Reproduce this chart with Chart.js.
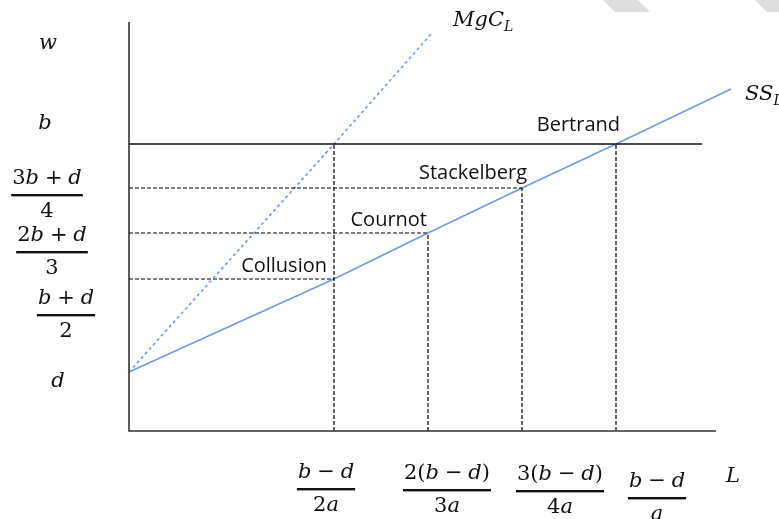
<!DOCTYPE html>
<html><head><meta charset="utf-8">
<script src="https://cdn.jsdelivr.net/npm/chart.js@4"></script>
<style>html,body{margin:0;padding:0;background:#fff}</style>
</head><body>
<canvas id="c" width="779" height="519"></canvas>
<script>
// drawing units: L to the right, w up, origin at the axes corner
const eqNames = ['Collusion', 'Cournot', 'Stackelberg', 'Bertrand'];
const eqL = [205, 299, 393, 487];
const eqW = [152, 198, 243, 287];
const dropTop = [287, 198, 243, 287];   // vertical dashed lines go up to here
const ssL = [0, 205, 299, 393, 487, 602];
const ssW = [59, 152, 198, 243, 287, 342];
const mgcL = [0, 205, 303];
const mgcW = [59, 287, 398];
const bLevel = 287, bLineEnd = 573;
const axisL = 587, axisW = 409;
const wTicks = [409, 287, 243, 198, 152, 59];
const wTickLabels = [['w'], ['b'], ['3b + d', '4'], ['2b + d', '3'], ['b + d', '2'], ['d']];
const lTicks = [205, 299, 393, 487, 587];
const lTickLabels = [['b − d', '2a'], ['2(b − d)', '3a'], ['3(b − d)', '4a'], ['b − d', 'a'], ['L']];

// where the hand-placed labels sit relative to their tick
const wLabelPos = [{x: 48, dy: 22}, {x: 45, dy: -20}, {x: 47, dy: 7}, {x: 52, dy: 19}, {x: 66, dy: 36}, {x: 58, dy: 10}];
const lLabelPos = [{dx: -8, dy: 58}, {dx: 19, dy: 59}, {dx: 38, dy: 60}, {dx: 41, dy: 67}, {dx: 17, dy: 46}];
const eqLabelPos = [{dx: -7, dy: -13}, {dx: -1, dy: -13}, {dx: 5, dy: -15}, {dx: 4, dy: -19}];

const BLUE = '#6f9be6';
const pts = (xs, ys) => xs.map((x, i) => ({x, y: ys[i]}));
const line = (data, color, width, dash) => ({
  data, borderColor: color, borderWidth: width, borderDash: dash || [],
  showLine: true, pointRadius: 0, fill: false, tension: 0, clip: false
});

const datasets = [];
datasets.push(line([{x: 0, y: axisW}, {x: 0, y: 0}, {x: axisL, y: 0}], '#333', 1.6));
datasets.push(line([{x: 0, y: bLevel}, {x: bLineEnd, y: bLevel}], '#111', 1.3));
eqL.forEach((L, i) => {
  if (eqW[i] < bLevel) datasets.push(line([{x: 0, y: eqW[i]}, {x: L, y: eqW[i]}], '#000', 1.2, [4, 2]));
  datasets.push(line([{x: L, y: 0}, {x: L, y: dropTop[i]}], '#000', 1.2, [4, 2]));
});
datasets.push(line(pts(ssL, ssW), BLUE, 1.7));
datasets.push(line(pts(mgcL, mgcW), BLUE, 1.7, [3, 3]));

// math text: letters italic, digits and signs upright
const MATH = '"DejaVu Serif"';
function mathWidth(ctx, s, size) {
  let w = 0;
  for (const ch of s) {
    ctx.font = (/[a-zA-Z]/.test(ch) ? 'italic ' : '') + size + 'px ' + MATH;
    w += ch === ' ' ? size * 0.28 : ctx.measureText(ch).width;
  }
  return w;
}
function mathText(ctx, s, cx, cy, size) {
  let x = cx - mathWidth(ctx, s, size) / 2;
  ctx.textAlign = 'left';
  ctx.textBaseline = 'middle';
  for (const ch of s) {
    ctx.font = (/[a-zA-Z]/.test(ch) ? 'italic ' : '') + size + 'px ' + MATH;
    if (ch !== ' ') ctx.fillText(ch, x, cy);
    x += ch === ' ' ? size * 0.28 : ctx.measureText(ch).width;
  }
}
function mathLabel(ctx, parts, cx, cy, size) {
  if (parts.length === 1) { mathText(ctx, parts[0], cx, cy, size); return; }
  const w = Math.max(mathWidth(ctx, parts[0], size), mathWidth(ctx, parts[1], size)) + 2;
  ctx.fillRect(cx - w / 2, cy - 1, w, 2.4);
  mathText(ctx, parts[0], cx, cy - 16, size);
  mathText(ctx, parts[1], cx, cy + 17, size);
}
function subLabel(ctx, main, sub, x, cy) {
  ctx.textAlign = 'left';
  ctx.textBaseline = 'middle';
  ctx.font = 'italic 21px ' + MATH;
  ctx.fillText(main, x, cy);
  const w = ctx.measureText(main).width;
  ctx.font = 'italic 14px ' + MATH;
  ctx.fillText(sub, x + w, cy + 6);
}

const labels = {
  id: 'labels',
  beforeDraw(chart) {
    const c = chart.ctx;
    c.save();
    c.fillStyle = '#dedede';
    c.beginPath(); c.moveTo(603, 0); c.lineTo(638, 0); c.lineTo(650, 12); c.lineTo(615, 12); c.closePath(); c.fill();
    c.beginPath(); c.moveTo(755, 0); c.lineTo(779, 0); c.lineTo(779, 12); c.lineTo(767, 12); c.closePath(); c.fill();
    c.restore();
  },
  afterDraw(chart) {
    const c = chart.ctx, xs = chart.scales.x, ys = chart.scales.y;
    c.save();
    c.fillStyle = '#111';
    wTicks.forEach((v, i) => {
      mathLabel(c, wTickLabels[i], wLabelPos[i].x, ys.getPixelForValue(v) + wLabelPos[i].dy, 21);
    });
    const x0 = ys.getPixelForValue(0);
    lTicks.forEach((v, i) => {
      mathLabel(c, lTickLabels[i], xs.getPixelForValue(v) + lLabelPos[i].dx, x0 + lLabelPos[i].dy, 21);
    });
    c.font = '20px "Open Sans"';
    c.textAlign = 'right';
    c.textBaseline = 'middle';
    eqNames.forEach((n, i) => {
      c.fillText(n, xs.getPixelForValue(eqL[i]) + eqLabelPos[i].dx, ys.getPixelForValue(eqW[i]) + eqLabelPos[i].dy);
    });
    const mEnd = mgcL.length - 1, sEnd = ssL.length - 1;
    subLabel(c, 'MgC', 'L', xs.getPixelForValue(mgcL[mEnd]) + 21, ys.getPixelForValue(mgcW[mEnd]) - 12);
    subLabel(c, 'SS', 'L', xs.getPixelForValue(ssL[sEnd]) + 14, ys.getPixelForValue(ssW[sEnd]) + 6);
    c.restore();
  }
};

new Chart(document.getElementById('c'), {
  type: 'scatter',
  data: {datasets},
  options: {
    responsive: false,
    animation: false,
    layout: {padding: {left: 129, right: 48, top: 22, bottom: 88}},
    plugins: {legend: {display: false}, tooltip: {enabled: false}},
    scales: {
      x: {type: 'linear', min: 0, max: 602, display: false},
      y: {type: 'linear', min: 0, max: axisW, display: false}
    }
  },
  plugins: [labels]
});
</script>
</body></html>
